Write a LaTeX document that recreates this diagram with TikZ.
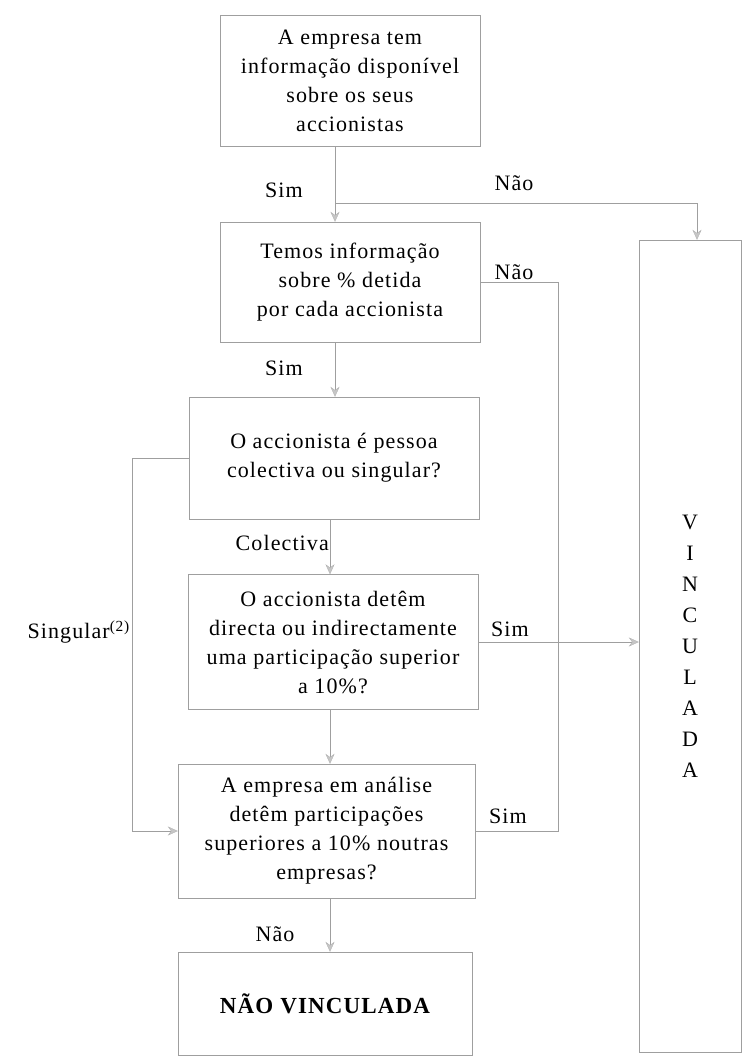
\documentclass[tikz,border=0pt]{standalone}
\usepackage{fontspec}
\setmainfont{Liberation Serif}[LetterSpace=5]
\usetikzlibrary{arrows.meta}
\tikzset{
  box/.style={draw=gray!75, thin, align=center, inner sep=0pt,
    font=\fontsize{22}{29}\selectfont},
  flow/.style={draw=gray!75, thin, -{Stealth[length=10pt,width=9pt,color=gray!60,fill=gray!45]}},
  lbl/.style={inner sep=1pt, font=\fontsize{22}{24}\selectfont}
}
\begin{document}
\begin{tikzpicture}[x=1pt,y=-1pt]
      \useasboundingbox (0,0) rectangle (741,1059);
      \node[box, minimum width=260pt, minimum height=131pt] (info) at (350,80.5)
        {A empresa tem\\informação disponível\\sobre os seus\\accionistas};
      \node[box, minimum width=260pt, minimum height=120pt] (perc) at (350,282)
        {Temos informação\\sobre \% detida\\por cada accionista};
      \node[box, minimum width=290pt, minimum height=122pt] (tipo) at (334,458)
        {O accionista é pessoa\\colectiva ou singular?};
      \node[box, minimum width=290pt, minimum height=135pt] (dire) at (333,642)
        {O accionista detêm\\directa ou indirectamente\\uma participação superior\\a 10\%?};
      \node[box, minimum width=297pt, minimum height=134pt] (part) at (326.5,831)
        {A empresa em análise\\detêm participações\\superiores a 10\% noutras\\empresas?};
      \node[box, minimum width=294pt, minimum height=103pt, font=\fontsize{23}{26}\selectfont\bfseries] (naov) at (325,1003.5)
        {NÃO VINCULADA};
      \node[box, minimum width=102pt, minimum height=812pt, font=\fontsize{22}{31}\selectfont] (vinc) at (690,646)
        {V\\I\\N\\C\\U\\L\\A\\D\\A};
      % fixed x of the vertical runs
      \coordinate (ax1) at (335,0);
      \coordinate (ax2) at (330,0);
      \coordinate (j1) at (335,203);
      \coordinate (vt) at (697,0);
      \coordinate (rl) at (558,0);
      \coordinate (sl) at (132,0);
      % labels
      \node[lbl] (sim1) at (284,190) {Sim};
      \node[lbl] (nao1) at (514,183) {Não};
      \node[lbl] (nao2) at (514,272) {Não};
      \node[lbl] (sim2) at (284,368) {Sim};
      \node[lbl, anchor=east] (col) at (330,543) {Colectiva};
      \node[lbl, anchor=east] (sing) at (131,632) {Singular\textsuperscript{(2)}};
      \node[lbl] (sim3) at (510,629) {Sim};
      \node[lbl] (sim4) at (508,816) {Sim};
      \node[lbl] (nao3) at (275,934) {Não};
      % connectors
      \draw[flow] (info.south -| ax1) -- (perc.north -| ax1);
      \draw[flow] (j1) -| (vinc.north -| vt);
      \draw[flow] (perc.south -| ax1) -- (tipo.north -| ax1);
      \draw[flow] (tipo.south -| ax2) -- (dire.north -| ax2);
      \draw[flow] (dire.south -| ax2) -- (part.north -| ax2);
      \draw[flow] (part.south -| ax2) -- (naov.north -| ax2);
      \draw[flow] (dire.east) -- (dire.east -| vinc.west);
      \draw[flow] (tipo.west) -| (sl |- part.west) -- (part.west);
      \draw[draw=gray!75, thin] (perc.east) -| (rl |- part.east) -- (part.east);
    \end{tikzpicture}
\end{document}
